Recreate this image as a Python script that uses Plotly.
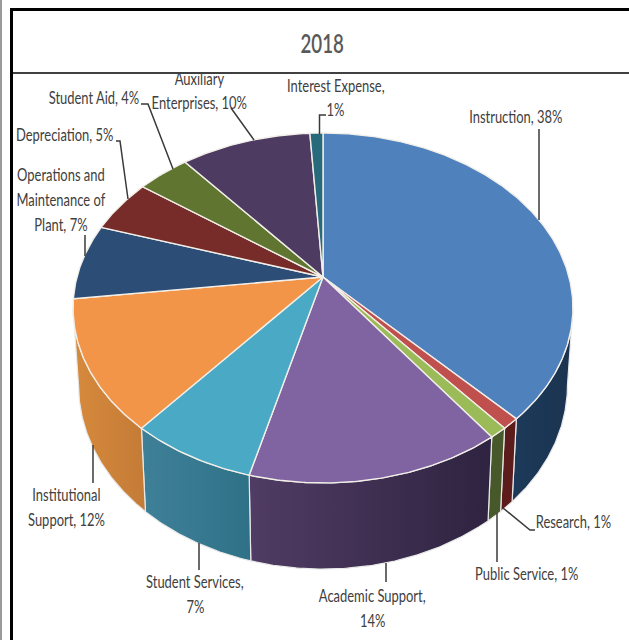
import numpy as np
import plotly.graph_objects as go

# FY2018 expense shares, clockwise from twelve o'clock
categories = ["Instruction", "Research", "Public Service", "Academic Support",
              "Student Services", "Institutional Support",
              "Operations and Maintenance of Plant", "Depreciation",
              "Student Aid", "Auxiliary Enterprises", "Interest Expense"]
values = [38, 1, 1, 14, 7, 12, 7, 5, 4, 10, 1]
title_text = "2018"

top_colors = ["#4f81bd", "#c0504d", "#9bbb59", "#8064a2", "#4aa9c5", "#f29548",
              "#2c4d75", "#772c2a", "#5f7530", "#4d3b62", "#276a7c"]
side_left = {0: "#1d3a5a", 1: "#5c1c1c", 2: "#47592a", 3: "#503c64", 4: "#3f8099", 5: "#d68a3c"}
side_right = {0: "#1a3350", 1: "#5c1c1c", 2: "#47592a", 3: "#2e2340", 4: "#2f7287", 5: "#c47b36"}

# Perspective projection of the unit disc onto the page
CX, CY = 323.0, 277.0
A, B, K = 246.0, 169.5, -0.177
DEPTH_X, DEPTH_Y, DEPTH_T = 0.978, 1.05, 62.0
# Angles where the rim turns back on itself: walls outside them face away
WALL_FROM = 180 - np.degrees(np.arccos(-K))
WALL_TO = 360 - WALL_FROM
LABEL_FONT = "Lato, Noto Sans, sans-serif"


def rim(a0, a1):
    t = np.radians(np.linspace(a0, a1, max(int((a1 - a0) * 2), 2) + 1))
    u, v = np.sin(t), -np.cos(t)
    d = 1 + K * v
    return CX + A * u / d, CY + B * v / d


def lower(x, y):
    return CX + (x - CX) * DEPTH_X, y * DEPTH_Y + DEPTH_T


fig = go.Figure()
edges = np.concatenate([[0], np.cumsum(values)]) * 360.0 / sum(values)

# Outer wall first, only the front half can be seen
for i, name in enumerate(categories):
    a0, a1 = max(edges[i], WALL_FROM), min(edges[i + 1], WALL_TO)
    if a1 <= a0:
        continue
    x, y = rim(a0, a1)
    bx, by = lower(x, y)
    px = np.concatenate([x, bx[::-1], x[:1]])
    py = np.concatenate([y, by[::-1], y[:1]])
    fig.add_trace(go.Scatter(
        x=px, y=py, mode="lines", fill="toself",
        line=dict(color="#e9e9e9", width=1.2),
        fillgradient=dict(type="horizontal",
                          colorscale=[[0, side_left[i]], [1, side_right[i]]]),
        hoverinfo="skip", showlegend=False, name=name))

# Top face of the disc
for i, name in enumerate(categories):
    x, y = rim(edges[i], edges[i + 1])
    px = np.concatenate([[CX], x, [CX]])
    py = np.concatenate([[CY], y, [CY]])
    fig.add_trace(go.Scatter(
        x=px, y=py, mode="lines", fill="toself", fillcolor=top_colors[i],
        line=dict(color="#f2efe9", width=1.4),
        hoverinfo="skip", showlegend=False, name=name))

# Leader lines from each label to its slice
leaders = [
    ([539, 539], [129, 220]),
    ([326, 319.5, 319.5], [115, 115, 134]),
    ([231, 254], [108, 140]),
    ([141, 148, 173], [104, 104, 169]),
    ([116, 120, 128], [141, 141, 199]),
    ([85, 85], [235, 256]),
    ([93, 93], [445, 483]),
    ([199, 199], [543, 570]),
    ([386, 386], [563, 582]),
    ([497, 497], [513, 562]),
    ([503, 530, 535], [508, 530, 530]),
]
for lx, ly in leaders:
    fig.add_trace(go.Scatter(x=lx, y=ly, mode="lines", line=dict(color="#3a3a3a", width=1.5),
                             hoverinfo="skip", showlegend=False))

v = dict(zip(categories, values))
label_lines = [
    (f"Instruction, {v['Instruction']}%", 516, 116),
    ("Interest Expense,", 336, 85),
    (f"{v['Interest Expense']}%", 335, 109),
    ("Auxiliary", 199, 78),
    (f"Enterprises, {v['Auxiliary Enterprises']}%", 199, 102),
    (f"Student Aid, {v['Student Aid']}%", 94, 97),
    (f"Depreciation, {v['Depreciation']}%", 65, 134),
    ("Operations and", 61, 174),
    ("Maintenance of", 61, 199),
    (f"Plant, {v['Operations and Maintenance of Plant']}%", 61, 224),
    ("Institutional", 66, 494),
    (f"Support, {v['Institutional Support']}%", 66, 519),
    ("Student Services,", 195, 581),
    (f"{v['Student Services']}%", 195, 606),
    ("Academic Support,", 372, 595),
    (f"{v['Academic Support']}%", 372, 620),
    (f"Public Service, {v['Public Service']}%", 527, 573),
    (f"Research, {v['Research']}%", 573, 521),
]
annotations = [
    dict(x=ax, y=ay, text=t, xref="x", yref="y", showarrow=False,
         xanchor="center", yanchor="middle",
         font=dict(family=LABEL_FONT, size=18, color="#404040"))
    for t, ax, ay in label_lines
]
annotations.append(dict(x=322, y=43, text=title_text, xref="x", yref="y", showarrow=False,
                        xanchor="center", yanchor="middle",
                        font=dict(family=LABEL_FONT, size=26, color="#595959", weight=600)))

shapes = [
    dict(type="line", xref="x", yref="y", x0=1, x1=1, y0=0, y1=640, line=dict(color="#9a9a9a", width=2)),
    dict(type="line", xref="x", yref="y", x0=11.5, x1=11.5, y0=8, y1=640, line=dict(color="#000000", width=3)),
    dict(type="line", xref="x", yref="y", x0=10, x1=629, y0=9.5, y1=9.5, line=dict(color="#000000", width=3)),
    dict(type="line", xref="x", yref="y", x0=12, x1=629, y0=73, y1=73, line=dict(color="#000000", width=1.3)),
]

fig.update_layout(
    width=629, height=640, margin=dict(l=0, r=0, t=0, b=0, pad=0),
    paper_bgcolor="#ffffff", plot_bgcolor="#ffffff",
    xaxis=dict(range=[0, 629], visible=False, fixedrange=True),
    yaxis=dict(range=[640, 0], visible=False, fixedrange=True),
    annotations=annotations, shapes=shapes, showlegend=False,
)

# The labels are set in a condensed cut: squeeze each one around its own centre
condense = """
document.fonts.ready.then(function () {
  document.querySelectorAll('.annotation-text').forEach(function (t) {
    var b = t.getBBox();
    var c = b.x + b.width / 2;
    t.setAttribute('transform',
      'translate(' + c + ',0) scale(0.72,1) translate(' + (-c) + ',0)');
  });
});
"""
fig.write_html("out.html", config=dict(displayModeBar=False), post_script=condense)
